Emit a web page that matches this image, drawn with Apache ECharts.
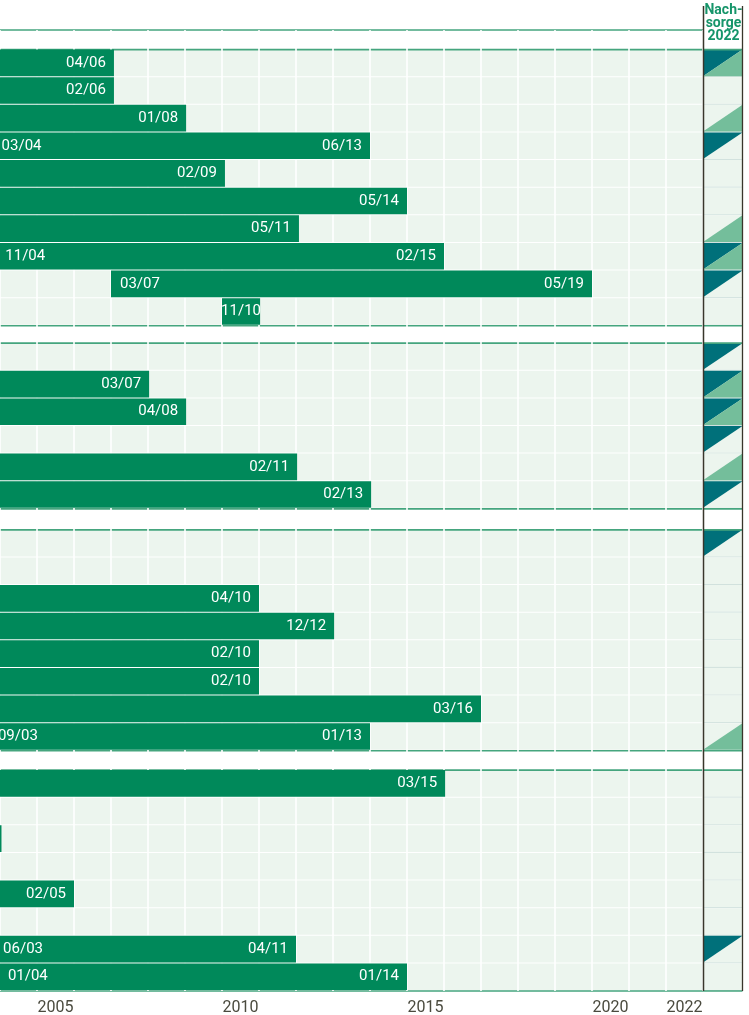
<!DOCTYPE html>
<html><head><meta charset="utf-8">
<script src="https://cdn.jsdelivr.net/npm/echarts/dist/echarts.min.js"></script>
<style>html,body{margin:0;padding:0;background:#fff;}#c{width:749px;height:1015px;}</style>
</head><body><div id="c"></div>
<script>
// ---------- DATA ----------
const yearCategories = ['2004','2005','2006','2007','2008','2009','2010','2011','2012','2013','2014','2015','2016','2017','2018','2019','2020','2021','2022'];
const yearTickLabels = ['2005','2010','2015','2020','2022'];
const groupRowCounts = [10, 6, 8, 8];
// bar start / end in decimal years (null = no visible bar)
const barStart = [
  2000, 2000, 2000, 2003.8, 2000, 2000, 2000, 2003.9, 2007.0, 2010.0,
  null, 2000, 2000, null, 2000, 2000,
  null, null, 2000, 2000, 2000, 2000, 2000, 2003.7,
  2000, null, 2000, null, 2000, null, 2003.84, 2003.97
];
const barEnd = [
  2007.08, 2007.08, 2009.03, 2014.0, 2010.08, 2015.0, 2012.08, 2016.0, 2020.0, 2011.03,
  null, 2008.03, 2009.03, null, 2012.03, 2014.03,
  null, null, 2011.0, 2013.03, 2011.0, 2011.0, 2017.0, 2014.0,
  2016.03, null, 2004.04, null, 2006.0, null, 2012.0, 2015.0
];
const startLabels = [
  '', '', '', '03/04', '', '', '', '11/04', '03/07', '11/10',
  '', '', '', '', '', '',
  '', '', '', '', '', '', '', '09/03',
  '', '', '', '', '', '', '06/03', '01/04'
];
const endLabels = [
  '04/06', '02/06', '01/08', '06/13', '02/09', '05/14', '05/11', '02/15', '05/19', '',
  '', '03/07', '04/08', '', '02/11', '02/13',
  '', '', '04/10', '12/12', '02/10', '02/10', '03/16', '01/13',
  '03/15', '', '', '', '02/05', '', '04/11', '01/14'
];
// Nachsorge 2022 markers: dark = upper-left triangle, light = lower-right triangle
const followUpDark = [
  1,0,0,1,0,0,0,1,1,0,
  1,1,1,1,0,1,
  1,0,0,0,0,0,0,0,
  0,0,0,0,0,0,1,0
];
const followUpLight = [
  1,0,1,0,0,0,1,1,0,0,
  0,1,1,0,1,0,
  0,0,0,0,0,0,0,1,
  0,0,0,0,0,0,0,0
];
const followUpTitle = 'Nach-\nsorge\n2022';

// ---------- LAYOUT ----------
const gapUnits = [0.71, 0.63, 0.76, 0.70];
const rowTops = [];
const groupLines = [];
let yy = 0;
groupRowCounts.forEach((n, g) => {
  groupLines.push(yy);
  yy += gapUnits[g];
  groupLines.push(yy);
  for (let r = 0; r < n; r++) { rowTops.push(yy); yy += 1; }
});
groupLines.push(yy);
const TOTAL = yy;

const BAR = '#00895a', BG = '#ecf5ee', LINE = '#45a57e', DARK = '#00707a', LIGHT = '#74be9b';
const FONT = 'Roboto, "Noto Sans", sans-serif';

const bgData = rowTops.map((t, i) => [t, i]);
const barData = [];
rowTops.forEach((t, i) => {
  if (barStart[i] != null && barEnd[i] != null) barData.push([barStart[i], barEnd[i], t, i]);
});
const lineData = groupLines.map((v, k) => [v, k]);

function renderBg(params, api) {
  const cs = params.coordSys;
  const t = api.value(0);
  const p0 = api.coord([2004, t]), p1 = api.coord([2004, t + 1]);
  return { type: 'rect', shape: { x: cs.x, y: p0[1], width: cs.width, height: p1[1] - p0[1] - 1 }, style: { fill: BG } };
}
function renderLines(params, api) {
  const cs = params.coordSys;
  const v = api.value(0), k = api.value(1);
  if (params.seriesIndex === 3 && k === 0) return null;
  const y = api.coord([0, v])[1];
  return { type: 'line', shape: { x1: cs.x, y1: y, x2: cs.x + cs.width, y2: y }, style: { stroke: LINE, lineWidth: 1.6 } };
}
function renderBar(params, api) {
  const cs = params.coordSys;
  const s = api.value(0), e = api.value(1), t = api.value(2), i = api.value(3);
  const p0 = api.coord([s, t]), p1 = api.coord([e, t + 1]);
  const rect = echarts.graphic.clipRectByRect(
    { x: p0[0], y: p0[1], width: p1[0] - p0[0], height: p1[1] - p0[1] - 1 },
    { x: cs.x, y: cs.y, width: cs.width, height: cs.height });
  const children = [];
  if (rect) children.push({ type: 'rect', shape: rect, style: { fill: BAR } });
  const cy = (p0[1] + p1[1] - 1) / 2;
  const w = p1[0] - p0[0];
  const sl = startLabels[i], el = endLabels[i];
  const ts = (txt, x, align) => ({ type: 'text', x: x, y: cy, style: { text: txt, fill: '#ffffff', fontSize: 15, fontFamily: FONT, align: align, verticalAlign: 'middle' } });
  if (w < 60) {
    const txt = sl || el;
    if (txt) children.push(ts(txt, (p0[0] + p1[0]) / 2, 'center'));
  } else {
    if (sl) children.push(ts(sl, p0[0] + 9, 'left'));
    if (el) children.push(ts(el, p1[0] - 8, 'right'));
  }
  return { type: 'group', children: children };
}
function renderFollow(params, api) {
  const t = api.value(0), i = api.value(1);
  const a = api.coord([0, t]), b = api.coord([1, t + 1]);
  const x0 = a[0], y0 = a[1], x1 = b[0], y1 = b[1] - 1;
  const children = [
    { type: 'rect', shape: { x: x0, y: y0, width: x1 - x0, height: y1 - y0 }, style: { fill: BG } },
    { type: 'line', shape: { x1: x0, y1: y1 + 0.5, x2: x1, y2: y1 + 0.5 }, style: { stroke: '#cfe0dc', lineWidth: 1 } }
  ];
  if (followUpDark[i]) children.push({ type: 'polygon', shape: { points: [[x0, y0], [x1, y0], [x0, y1]] }, style: { fill: DARK } });
  if (followUpLight[i]) children.push({ type: 'polygon', shape: { points: [[x1, y0], [x1, y1], [x0, y1]] }, style: { fill: LIGHT } });
  return { type: 'group', children: children };
}

const chart = echarts.init(document.getElementById('c'), null, { renderer: 'canvas' });
chart.setOption({
  animation: false,
  backgroundColor: '#ffffff',
  grid: [
    { left: 0, right: 46, top: 30, bottom: 24, outerBoundsMode: 'none', containLabel: false },
    { left: 703, right: 6.5, top: 30, bottom: 24, outerBoundsMode: 'none', containLabel: false }
  ],
  xAxis: [
    { type: 'value', gridIndex: 0, min: 2004, max: 2023, interval: 1, position: 'bottom', z: 3,
      axisLabel: { show: false }, axisTick: { show: false }, axisLine: { show: false },
      splitLine: { show: true, lineStyle: { color: '#ffffff', width: 1.6 } } },
    { type: 'category', gridIndex: 0, data: yearCategories, boundaryGap: true, position: 'bottom',
      axisLine: { show: false }, axisTick: { show: false }, splitLine: { show: false },
      axisLabel: { show: true, color: '#4a4a3e', fontSize: 16, fontFamily: FONT, margin: 9, hideOverlap: false,
        interval: (idx, val) => yearTickLabels.indexOf(val) >= 0 } },
    { type: 'value', gridIndex: 1, min: 0, max: 1, show: false }
  ],
  yAxis: [
    { type: 'value', gridIndex: 0, min: 0, max: TOTAL, inverse: true, show: false },
    { type: 'value', gridIndex: 1, min: 0, max: TOTAL, inverse: true, show: false }
  ],
  series: [
    { type: 'custom', name: 'bg', xAxisIndex: 0, yAxisIndex: 0, z: 1, renderItem: renderBg, data: bgData, encode: { y: 0 }, silent: true },
    { type: 'custom', name: 'lines', xAxisIndex: 0, yAxisIndex: 0, z: 2, renderItem: renderLines, data: lineData, encode: { y: 0 }, clip: false, silent: true },
    { type: 'custom', name: 'bars', xAxisIndex: 0, yAxisIndex: 0, z: 4, renderItem: renderBar, data: barData, encode: { x: [0, 1], y: 2 }, clip: true },
    { type: 'custom', name: 'lines2', xAxisIndex: 2, yAxisIndex: 1, z: 5, renderItem: renderLines, data: lineData, encode: { y: 0 }, clip: false, silent: true },
    { type: 'custom', name: 'follow', xAxisIndex: 2, yAxisIndex: 1, z: 4, renderItem: renderFollow, data: bgData, encode: { y: 0 } }
  ],
  graphic: [
    { type: 'text', x: 723.5, y: 4, z: 10, style: { text: followUpTitle, fill: '#16956a', fontSize: 14, fontWeight: 'bold', fontFamily: FONT, align: 'center', lineHeight: 13 } },
    { type: 'line', z: 10, shape: { x1: 703.5, y1: 6, x2: 703.5, y2: 991 }, style: { stroke: '#38362b', lineWidth: 1.5 } },
    { type: 'line', z: 10, shape: { x1: 742.5, y1: 6, x2: 742.5, y2: 991 }, style: { stroke: '#38362b', lineWidth: 1.3 } }
  ]
});
</script></body></html>
